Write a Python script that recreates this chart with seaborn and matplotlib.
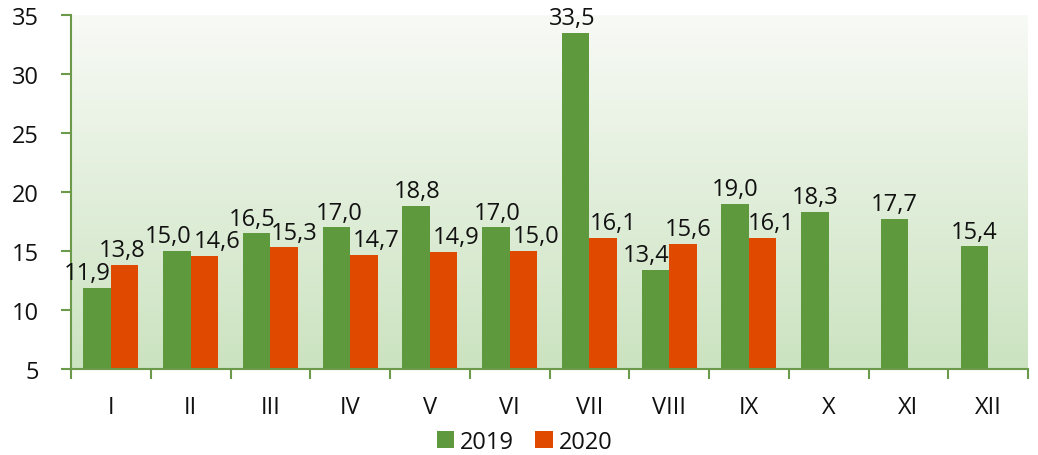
import numpy as np
import pandas as pd
import matplotlib
matplotlib.use("Agg")
import matplotlib.pyplot as plt
import seaborn as sns
from matplotlib.colors import LinearSegmentedColormap

months = ["I", "II", "III", "IV", "V", "VI", "VII", "VIII", "IX", "X", "XI", "XII"]
values_2019 = [11.9, 15.0, 16.5, 17.0, 18.8, 17.0, 33.5, 13.4, 19.0, 18.3, 17.7, 15.4]
values_2020 = [13.8, 14.6, 15.3, 14.7, 14.9, 15.0, 16.1, 15.6, 16.1, None, None, None]
years = ["2019", "2020"]

# horizontal nudges of the data labels (pixels), the way Excel spread them
nudge_2019 = [-9.5, -9, -4.5, 3, 1, 1, -3.5, -9.5, 0, 0, 0, 0]
nudge_2020 = [-2.5, 13, 10, 12, 13, 13, 10, 5.5, 8.5, 0, 0, 0]

GREEN = "#5F993D"
ORANGE = "#E04A00"
AXIS_GREEN = "#6A9A4A"

df = pd.DataFrame({
    "month": months * 2,
    "year": [years[0]] * 12 + [years[1]] * 12,
    "value": values_2019 + values_2020,
})

sns.set_style("white")
plt.rcParams["font.family"] = ["Open Sans", "DejaVu Sans"]
FS = 17

fig = plt.figure(figsize=(10.38, 4.56), dpi=100)
ax = fig.add_axes([71 / 1038, 1 - 370 / 456, 957 / 1038, 354 / 456])

# gradient background
grad = np.linspace(0, 1, 256).reshape(-1, 1)
cmap = LinearSegmentedColormap.from_list("bg", ["#F8FAF6", "#CBE3C0"])
ax.imshow(grad, aspect="auto", cmap=cmap, extent=[0, 1, 0, 1],
          transform=ax.transAxes, zorder=0)

sns.barplot(data=df, x="month", y="value", hue="year", order=months,
            palette=[GREEN, ORANGE], width=0.69, saturation=1,
            edgecolor="none", linewidth=0, ax=ax, zorder=2, legend=True)

for cont, nudges in zip(ax.containers, [nudge_2019, nudge_2020]):
    for bar, v, dx in zip(cont.patches, cont.datavalues, nudges):
        if np.isnan(v):
            continue
        ax.annotate(f"{v:.1f}".replace(".", ","),
                    (bar.get_x() + bar.get_width() / 2, v),
                    xytext=(dx * 0.72, 2), textcoords="offset points",
                    ha="center", va="bottom", fontsize=FS, color="#111111",
                    zorder=5, annotation_clip=False)

ax.set_ylim(5, 35)
ax.set_xlim(-0.5, 11.5)
ax.set_yticks(range(5, 36, 5))
ax.set_xlabel("")
ax.set_ylabel("")

ax.set_xticks(np.arange(-0.5, 12, 1))
ax.set_xticklabels([])
ax.set_xticks(np.arange(12), minor=True)
ax.set_xticklabels(months, minor=True)
ax.tick_params(axis="x", which="major", length=7, width=1.5, color=AXIS_GREEN,
               direction="out", bottom=True)
ax.tick_params(axis="x", which="minor", length=0, pad=19, labelsize=FS,
               labelcolor="#111111")
ax.tick_params(axis="y", length=7, width=1.5, color=AXIS_GREEN, direction="out",
               left=True, pad=16, labelsize=FS, labelcolor="#111111")

for side in ["top", "right"]:
    ax.spines[side].set_visible(False)
for side in ["left", "bottom"]:
    ax.spines[side].set_color(AXIS_GREEN)
    ax.spines[side].set_linewidth(1.5)

leg = ax.legend(loc="center", bbox_to_anchor=(0.474, -0.205), ncol=2,
                frameon=False, fontsize=FS, handlelength=0.75, handleheight=0.75,
                handletextpad=0.25, columnspacing=0.9)
for t in leg.get_texts():
    t.set_color("#111111")

fig.savefig("out.png", dpi=100)
